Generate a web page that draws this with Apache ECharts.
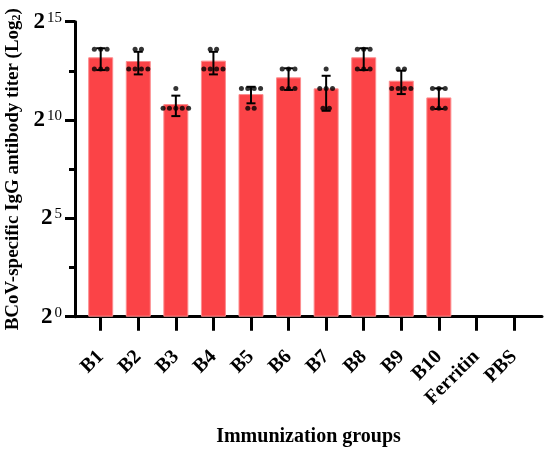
<!DOCTYPE html>
<html>
<head>
<meta charset="utf-8">
<script src="https://cdn.jsdelivr.net/npm/echarts@6/dist/echarts.min.js"></script>
<style>html,body{margin:0;padding:0;background:#fff}#c{width:550px;height:452px}</style>
</head>
<body>
<div id="c"></div>
<script>
// ---- data (log2 titer) ----
var categories = ['B1','B2','B3','B4','B5','B6','B7','B8','B9','B10','Ferritin','PBS'];
var barMeans  = [13.19, 13.0, 10.81, 13.02, 11.32, 12.17, 11.61, 13.19, 12.0, 11.15, null, null];
var errHigh   = [13.65, 13.47, 11.24, 13.47, 11.69, 12.63, 12.25, 13.65, 12.51, 11.61, null, null];
var errLow    = [12.54, 12.32, 10.2, 12.32, 10.85, 11.53, 10.47, 12.54, 11.32, 10.56, null, null];
var individual = [
  [13.6,13.6,13.6,12.6,12.6,12.6],
  [13.6,13.6,12.6,12.6,12.6,12.6],
  [11.6,10.6,10.6,10.6,10.6,10.6],
  [13.6,13.6,12.6,12.6,12.6,12.6],
  [11.6,11.6,11.6,11.6,10.6,10.6],
  [12.6,12.6,12.6,11.6,11.6,11.6],
  [12.6,11.6,11.6,11.6,10.6,10.6],
  [13.6,13.6,13.6,12.6,12.6,12.6],
  [12.6,12.6,11.6,11.6,11.6,11.6],
  [11.6,11.6,11.6,10.6,10.6,10.6],
  [],
  []
];
var yTicks = [0, 5, 10, 15];

// ---- build series data ----
var barData = [], errData = [], dotData = [];
categories.forEach(function (c, i) {
  if (barMeans[i] != null) barData.push([i, barMeans[i]]);
  if (errHigh[i] != null) errData.push([i, errLow[i], errHigh[i]]);
  var groups = {};
  individual[i].forEach(function (v) { (groups[v] = groups[v] || []).push(v); });
  Object.keys(groups).forEach(function (k) {
    var n = groups[k].length, sp = 0.17;
    groups[k].forEach(function (v, j) { dotData.push([i + (j - (n - 1) / 2) * sp, v]); });
  });
});

var serif = '"Liberation Serif","Times New Roman",serif';
var chart = echarts.init(document.getElementById('c'));
chart.setOption({
  animation: false,
  grid: { left: 75, right: 8, top: 21.7, bottom: 135.3, containLabel: false, outerBoundsMode: 'none' },
  xAxis: {
    type: 'value', min: -0.684, max: 11.745,
    splitLine: { show: false },
    axisLine: { show: true, onZero: false, lineStyle: { color: '#000', width: 3 } },
    axisTick: { show: true, length: 14, lineStyle: { color: '#000', width: 3 }, customValues: categories.map(function (c, i) { return i; }) },
    axisLabel: {
      customValues: categories.map(function (c, i) { return i; }),
      formatter: function (v) { return categories[Math.round(v)] || ''; },
      rotate: 45, margin: 37, color: '#000', fontFamily: serif, fontWeight: 'bold', fontSize: 20
    },
    name: 'Immunization groups', nameLocation: 'middle', nameGap: 110,
    nameTextStyle: { color: '#000', fontFamily: serif, fontWeight: 'bold', fontSize: 20 }
  },
  yAxis: {
    type: 'value', min: 0, max: 15, interval: 5,
    splitLine: { show: false },
    axisLine: { show: true, onZero: false, lineStyle: { color: '#000', width: 3 } },
    axisTick: { show: true, length: 10, lineStyle: { color: '#000', width: 3 } },
    minorTick: { show: true, splitNumber: 2, length: 6, lineStyle: { color: '#000', width: 3 } },
    axisLabel: {
      margin: 13,
      formatter: function (v) { return '{b|2}{s|' + v + '}'; },
      rich: {
        b: { fontFamily: serif, fontWeight: 'bold', fontSize: 23, color: '#000', lineHeight: 23 },
        s: { fontFamily: serif, fontWeight: 'normal', fontSize: 15, color: '#000', verticalAlign: 'top', lineHeight: 15, padding: [0, 0, 0, 2] }
      }
    },
    name: 'BCoV-specific IgG antibody titer (Log{sub|2})',
    nameLocation: 'middle', nameGap: 48,
    nameTextStyle: {
      color: '#000', fontFamily: serif, fontWeight: 'bold', fontSize: 19,
      rich: {
        sub: { fontFamily: serif, fontWeight: 'bold', fontSize: 12, color: '#000', verticalAlign: 'bottom', padding: [6, 0, 0, 0] }
      }
    }
  },
  series: [
    {
      type: 'bar', data: barData, barWidth: 25, z: 2,
      itemStyle: { color: '#fb4347', borderColor: '#fc8d8f', borderWidth: 1 }
    },
    {
      type: 'custom', data: errData, z: 3,
      renderItem: function (params, api) {
        var x = api.value(0);
        var lo = api.coord([x, api.value(1)]);
        var hi = api.coord([x, api.value(2)]);
        var w = 4.5;
        var st = { stroke: '#000', lineWidth: 2 };
        return {
          type: 'group', children: [
            { type: 'line', shape: { x1: lo[0], y1: lo[1], x2: hi[0], y2: hi[1] }, style: st },
            { type: 'line', shape: { x1: hi[0] - w, y1: hi[1], x2: hi[0] + w, y2: hi[1] }, style: st },
            { type: 'line', shape: { x1: lo[0] - w, y1: lo[1], x2: lo[0] + w, y2: lo[1] }, style: st }
          ]
        };
      }
    },
    {
      type: 'scatter', data: dotData, z: 4, symbolSize: 5,
      itemStyle: { color: '#000' }
    }
  ]
});
</script>
</body>
</html>
